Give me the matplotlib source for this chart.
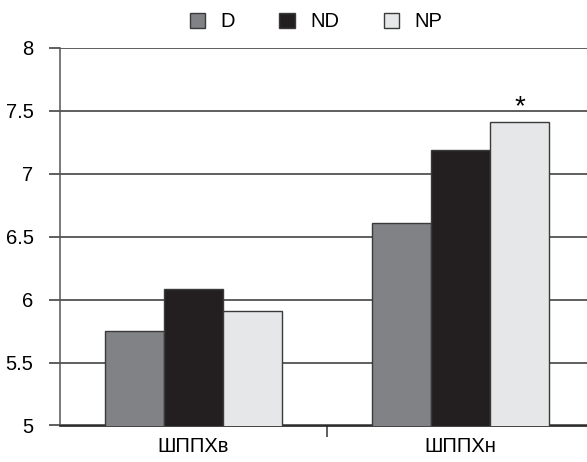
import matplotlib
matplotlib.use("Agg")
import matplotlib.pyplot as plt
import numpy as np

categories = ["ШППХв", "ШППХн"]
series_names = ["D", "ND", "NP"]
values_D = [5.75, 6.61]
values_ND = [6.08, 7.19]
values_NP = [5.91, 7.41]
yticks = [5, 5.5, 6, 6.5, 7, 7.5, 8]
ytick_labels = ["5", "5.5", "6", "6.5", "7", "7.5", "8"]
colors = ["#808285", "#231f20", "#e6e7e8"]

plt.rcParams['font.family'] = ['Liberation Sans', 'DejaVu Sans']

fig = plt.figure(figsize=(5.87, 4.62), dpi=100)
ax = fig.add_axes([60/587, 36.5/462, 534/587, 377.8/462])

x = np.arange(len(categories))
w = 0.2213
series = [values_D, values_ND, values_NP]
bars = []
for i, (vals, name, c) in enumerate(zip(series, series_names, colors)):
    b = ax.bar(x + (i - 1) * w, vals, width=w, color=c, edgecolor="#3a3a3a",
               linewidth=1.0, label=name, zorder=3)
    bars.append(b)

ax.set_xlim(-0.5, 1.5)
ax.set_ylim(5, 8)
ax.set_yticks(yticks)
ax.set_yticklabels(ytick_labels)
ax.yaxis.grid(True, color="#333333", linewidth=1.1, zorder=0)
ax.set_axisbelow(True)

ax.set_xticks([0.5, 1.5])
ax.set_xticklabels(["", ""])
ax.set_xticks(x, minor=True)
ax.set_xticklabels(categories, minor=True)
ax.tick_params(axis='x', which='minor', length=0, pad=8, labelsize=14.5)
ax.tick_params(axis='x', which='major', length=8, width=1.1, color="#333333", direction='out')
ax.tick_params(axis='y', length=8, width=1.1, color="#333333", pad=11, labelsize=14.5)

for s in ["top", "right"]:
    ax.spines[s].set_visible(False)
ax.spines["left"].set_color("#555555")
ax.spines["left"].set_linewidth(1.1)
ax.spines["bottom"].set_color("#222222")
ax.spines["bottom"].set_linewidth(1.2)

# significance marker
top_np = bars[2][1]
ax.annotate("*", xy=(top_np.get_x() + top_np.get_width() / 2, top_np.get_height()),
            xytext=(0, 1), textcoords="offset points", ha="center", va="bottom",
            fontsize=20)

fig.legend(loc="center", bbox_to_anchor=(316/587, 0.953), ncol=3, frameon=False,
           fontsize=14.5, handlelength=0.78, handleheight=0.78, handletextpad=0.75,
           columnspacing=2.2)

fig.savefig("out.png", dpi=100)
